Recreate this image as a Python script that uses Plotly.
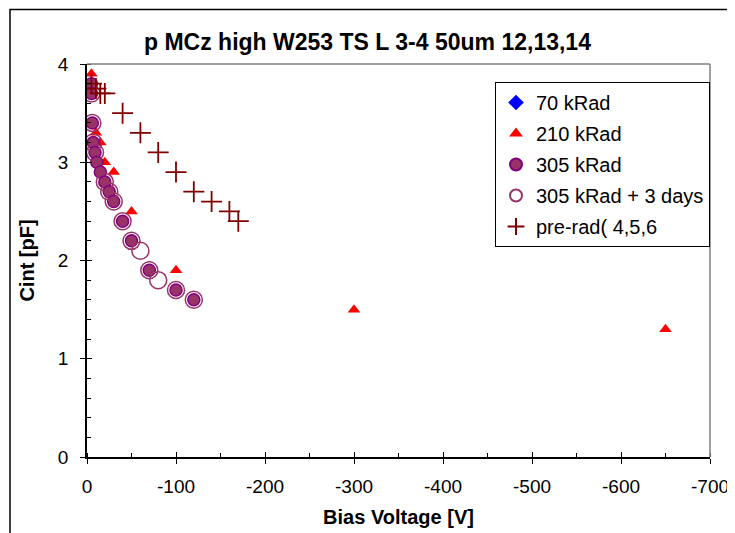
import plotly.graph_objects as go

# ---- data ----
kr70_x = [-5, -11, -20]
kr70_y = [3.7, 3.0, 2.8]

kr210_x = [-5, -10, -15, -20, -30, -50, -100, -300, -650]
kr210_y = [3.9, 3.3, 3.2, 3.0, 2.9, 2.5, 1.9, 1.5, 1.3]

kr305_x = [-5, -5, -6, -7, -9, -11, -15, -20, -25, -30, -40, -50, -70, -100, -120]
kr305_y = [3.8, 3.7, 3.4, 3.2, 3.1, 3.0, 2.9, 2.8, 2.7, 2.6, 2.4, 2.2, 1.9, 1.7, 1.6]

kr305d_x = [-5, -6, -7, -9, -20, -25, -30, -40, -50, -60, -70, -80, -100, -120]
kr305d_y = [3.7, 3.4, 3.2, 3.1, 2.8, 2.7, 2.6, 2.4, 2.2, 2.1, 1.9, 1.8, 1.7, 1.6]

pre_x = [-5, -10, -15, -20, -40, -60, -80, -100, -120, -140, -160, -170]
pre_y = [3.8, 3.75, 3.7, 3.7, 3.5, 3.3, 3.1, 2.9, 2.7, 2.6, 2.5, 2.4]

x_ticks = [0, -100, -200, -300, -400, -500, -600, -700]
x_ticktext = ["0", "-100", "-200", "-300", "-400", "-500", "-600", "-700"]
y_ticks = [0, 1, 2, 3, 4]

FONT = "Arial, Liberation Sans, sans-serif"

# page body adds an 8px offset; the figure is sized to fill the rest of the window
OFF = 8
W, H = 735 - OFF, 533 - OFF
L, R, T, B = 87 - OFF, 25, 64 - OFF, 76
PW, PH = W - L - R, H - T - B


def px_x(px):
    return (px - OFF - L) / PW


def px_y(py):
    return (H - B - (py - OFF)) / PH


fig = go.Figure()
fig.add_trace(go.Scatter(x=kr70_x, y=kr70_y, mode="markers", name="70 kRad",
                         legendgroup="a",
                         marker=dict(symbol="diamond", size=8, color="#0000FF")))
fig.add_trace(go.Scatter(x=kr210_x, y=kr210_y, mode="markers", name="210 kRad",
                         legendgroup="b",
                         marker=dict(symbol="triangle-up", size=11, color="#FF0000")))
fig.add_trace(go.Scatter(x=kr305_x, y=kr305_y, mode="markers", name="305 kRad",
                         legendgroup="c",
                         marker=dict(symbol="circle", size=12, color="#993366",
                                     line=dict(color="#800080", width=1.5))))
fig.add_trace(go.Scatter(x=kr305d_x, y=kr305d_y, mode="markers", name="305 kRad + 3 days",
                         legendgroup="d",
                         marker=dict(symbol="circle-open", size=17, color="#993366",
                                     line=dict(color="#993366", width=1.5))))
fig.add_trace(go.Scatter(x=pre_x, y=pre_y, mode="markers", name="pre-rad( 4,5,6",
                         legendgroup="e",
                         marker=dict(symbol="cross-thin", size=15, color="#800000",
                                     line=dict(color="#800000", width=1.8))))

axis_common = dict(showgrid=False, zeroline=False, showline=True, linecolor="black",
                   linewidth=1.5, automargin=False,
                   tickfont=dict(family=FONT, size=19, color="black"))

fig.update_layout(
    width=W, height=H,
    margin=dict(l=L, r=R, t=T, b=B, autoexpand=False),
    paper_bgcolor="white", plot_bgcolor="white",
    title=dict(text="<b>p MCz high W253 TS L 3-4 50um 12,13,14</b>",
               x=(367.5 - OFF) / W, xref="container", xanchor="center",
               y=1 - (42 - OFF) / H, yref="container", yanchor="middle", automargin=False,
               font=dict(family=FONT, size=23, color="black")),
    xaxis=dict(range=[0, -700], tickvals=x_ticks, ticktext=x_ticktext,
               ticks="outside", ticklen=5,
               tickcolor="black", tickwidth=1, ticklabelstandoff=6,
               minor=dict(dtick=50, ticks="inside", ticklen=4, tickcolor="black"),
               title=dict(text="<b>Bias Voltage [V]</b>", standoff=14,
                          font=dict(family=FONT, size=20, color="black")),
               **axis_common),
    yaxis=dict(range=[0, 4], tickvals=y_ticks, ticks="outside", ticklen=5,
               tickcolor="black", tickwidth=1, ticklabelstandoff=8,
               minor=dict(dtick=0.2, ticks="inside", ticklen=4, tickcolor="black"),
               title=dict(text="<b>Cint [pF]</b>", standoff=18,
                          font=dict(family=FONT, size=20, color="black")),
               **axis_common),
    xaxis2=dict(overlaying="x", matches="x", range=[0, -700], tickvals=x_ticks,
                ticks="inside", ticklen=5, tickcolor="black", showticklabels=False,
                showgrid=False, zeroline=False, side="bottom", anchor="y"),
    yaxis2=dict(overlaying="y", matches="y", range=[0, 4], tickvals=y_ticks,
                ticks="inside", ticklen=5, tickcolor="black", showticklabels=False,
                showgrid=False, zeroline=False, side="left", anchor="x"),
    legend=dict(x=px_x(495), y=px_y(82), xanchor="left", yanchor="top",
                bgcolor="white", bordercolor="black", borderwidth=1,
                font=dict(family=FONT, size=20, color="black"),
                tracegroupgap=2, traceorder="grouped", itemsizing="constant",
                itemwidth=30),
    showlegend=True,
    shapes=[
        # gray top/right plot frame
        dict(type="line", xref="paper", yref="paper", x0=0, x1=1, y0=1, y1=1,
             line=dict(color="#808080", width=1.5)),
        dict(type="line", xref="paper", yref="paper", x0=1, x1=1, y0=0, y1=1,
             line=dict(color="#808080", width=1.5)),
        # outer chart frame
        dict(type="rect", xref="paper", yref="paper",
             x0=px_x(10), x1=px_x(733),
             y0=-0.3, y1=px_y(9.5),
             line=dict(color="black", width=1.5), layer="below"),
    ],
)

# dummy trace to activate the overlay axes
fig.add_trace(go.Scatter(x=[None], y=[None], xaxis="x2", yaxis="y2",
                         showlegend=False, hoverinfo="skip"))

fig.write_html("out.html")
